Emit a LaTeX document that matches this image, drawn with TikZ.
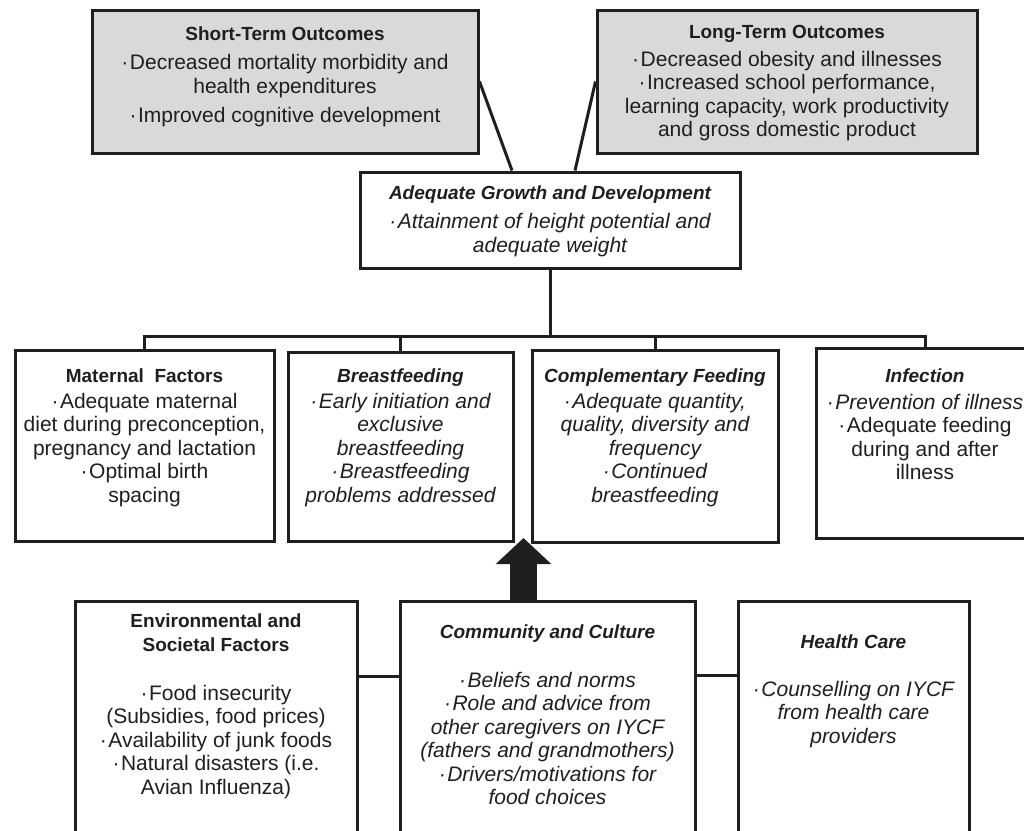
\documentclass[tikz,border=0pt]{standalone}
\usepackage{fontspec}
\setmainfont{Liberation Sans}
\usetikzlibrary{arrows.meta}
\newcommand{\bul}{·\hspace{1.5pt}}
\newcommand{\ttl}[1]{{\fontsize{19}{23.5}\selectfont\bfseries #1}}

\begin{document}
\begin{tikzpicture}[x=1pt, y=-1pt,
    box/.style={draw=black!88, line width=3pt, fill=white, inner sep=0pt},
    outbox/.style={box, fill=black!15},
    txt/.style={align=center, inner sep=0pt, text=black!88, font=\fontsize{21}{23.5}\selectfont},
    itxt/.style={txt, font=\fontsize{21}{23.5}\selectfont\itshape},
    link/.style={draw=black!88, line width=3pt}]
    \useasboundingbox (0,0) rectangle (1024,830);
    \clip (0,0) rectangle (1024,830);

    % outcomes
    \node[outbox, minimum width=386pt, minimum height=143pt] (st) at (285,81.5) {};
    \node[outbox, minimum width=380pt, minimum height=143pt] (lt) at (787,81.5) {};
    \node[box, minimum width=380pt, minimum height=96pt] (mid) at (550,220) {};
    \node[txt] (stT) at (285,77) {\ttl{Short-Term Outcomes}\\[6pt]
        \bul Decreased mortality morbidity and\\ health expenditures\\[6pt]
        \bul Improved cognitive development};
    \node[txt] (ltT) at (787,83.5) {\ttl{Long-Term Outcomes}\\[4pt]
        \bul Decreased obesity and illnesses\\ \bul Increased school performance,\\
        learning capacity, work productivity\\ and gross domestic product};
    \node[itxt] (midT) at (550,221) {\ttl{Adequate Growth and Development}\\[6pt]
        \bul Attainment of height potential and\\ adequate weight};

    % determinants
    \node[box, minimum width=259pt, minimum height=191pt] (mat) at (144.5,445.5) {};
    \node[box, minimum width=225pt, minimum height=189pt] (bf) at (400.5,446.5) {};
    \node[box, minimum width=246pt, minimum height=192pt] (cf) at (655,446) {};
    \node[box, minimum width=218pt, minimum height=190pt] (inf) at (925,443) {};
    \node[txt] (matT) at (144.5,437.5) {\ttl{Maternal~ Factors}\\[2.5pt]
        \bul Adequate maternal\\ diet during preconception,\\ pregnancy and lactation\\
        \bul Optimal birth\\ spacing};
    \node[itxt] (bfT) at (400.5,437.5) {\ttl{Breastfeeding}\\[2.5pt]
        \bul Early initiation and\\ exclusive\\ breastfeeding\\
        \bul Breastfeeding\\ problems addressed};
    \node[itxt] (cfT) at (655,437.5) {\ttl{Complementary Feeding}\\[2.5pt]
        \bul Adequate quantity,\\ quality, diversity and\\ frequency\\
        \bul Continued\\ breastfeeding};
    \node[txt] (infT) at (925,424.5) {{\itshape\ttl{Infection}}\\[3pt]
        {\itshape\bul Prevention of illness}\\ \bul Adequate feeding\\
        during and after\\ illness};

    % context
    \node[box, minimum width=282pt, minimum height=279pt] (env) at (216,740.5) {};
    \node[box, minimum width=295pt, minimum height=279pt] (cc) at (547.5,740.5) {};
    \node[box, minimum width=231pt, minimum height=279pt] (hc) at (853.5,740.5) {};
    \node[txt] (envT) at (216,706.5) {\ttl{Environmental and}\\ \ttl{Societal Factors}\\[25.5pt]
        \bul Food insecurity\\ (Subsidies, food prices)\\ \bul Availability of junk foods\\
        \bul Natural disasters (i.e.\\ Avian Influenza)};
    \node[itxt] (ccT) at (547.5,714.5) {\ttl{Community and Culture}\\[25.5pt]
        \bul Beliefs and norms\\ \bul Role and advice from\\ other caregivers on IYCF\\
        (fathers and grandmothers)\\ \bul Drivers/motivations for\\ food choices};
    \node[itxt] (hcT) at (853.5,691) {\ttl{Health Care}\\[24.5pt]
        \bul Counselling on IYCF\\ from health care\\ providers};

    % connectors
    \coordinate (bus) at (550,336);
    \coordinate (tip) at (523.5,538);
    \draw[link] (st.east) -- ([xshift=-38pt]mid.north);
    \draw[link] (lt.west) -- ([xshift=25pt]mid.north);
    \draw[link] (mid.south) -- (bus);
    \draw[link] (mat.north) |- (bus) -| (inf.north);
    \draw[link] (bf.north) -- (bf.north |- bus);
    \draw[link] (cf.north) -- (cf.north |- bus);
    \draw[link] ([yshift=-77pt]env.north east) -- ([yshift=-77pt]cc.north west);
    \draw[link] ([yshift=-76pt]cc.north east) -- ([yshift=-76pt]hc.north west);
    \draw[line width=27pt, black!88, -{Triangle[width=54pt, length=26pt]}]
        ([xshift=-24pt]cc.north) -- (tip);
\end{tikzpicture}
\end{document}
